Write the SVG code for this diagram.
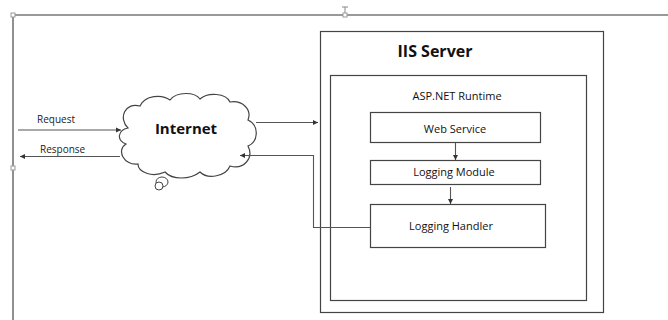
<svg xmlns="http://www.w3.org/2000/svg" width="668" height="320" viewBox="0 0 668 320">
<style>
.box{fill:#fff;stroke:#444;stroke-width:1.2}
.ln{fill:none;stroke:#555;stroke-width:1.1}
.t{font-family:"Open Sans","Liberation Sans",sans-serif;font-size:11px;fill:#111;text-anchor:middle}
.lbl{font-family:"Open Sans","Liberation Sans",sans-serif;font-size:10px;fill:#222}
.b{font-family:"Open Sans","Liberation Sans",sans-serif;font-weight:bold;fill:#111;text-anchor:middle}
.h{fill:#fff;stroke:#999;stroke-width:1}
</style>
<defs>
<marker id="ah" markerWidth="6" markerHeight="6" refX="5" refY="3" orient="auto" markerUnits="userSpaceOnUse">
<path d="M0,0.5 L5,3 L0,5.5 Z" fill="#333"/>
</marker>
</defs>
<rect width="668" height="320" fill="#fff"/>
<g id="page">
<line x1="13" y1="15" x2="668" y2="15" stroke="#999" stroke-width="2"/>
<line x1="13" y1="15" x2="13" y2="320" stroke="#222" stroke-width="1"/>
<line x1="345" y1="7" x2="345" y2="14" stroke="#888" stroke-width="1"/>
<line x1="342" y1="7" x2="348" y2="7" stroke="#888" stroke-width="1"/>
<rect class="h" x="11" y="13" width="4" height="4"/>
<rect class="h" x="343" y="13" width="4" height="4"/>
<rect class="h" x="11" y="166" width="4" height="4"/>
</g>
<g id="iis-server">
<rect class="box" x="320.5" y="31.5" width="283" height="281"/>
<text class="b" x="435" y="57" font-size="16">IIS Server</text>
</g>
<g id="aspnet-runtime">
<rect class="box" x="330.5" y="75.5" width="256" height="225"/>
<text class="t" x="457" y="100">ASP.NET Runtime</text>
</g>
<g id="web-service">
<rect class="box" x="370.5" y="112.5" width="170" height="30"/>
<text class="t" x="455" y="133" font-size="12">Web Service</text>
</g>
<g id="logging-module">
<rect class="box" x="370.5" y="160.5" width="170" height="24"/>
<text class="t" x="454" y="176">Logging Module</text>
</g>
<g id="logging-handler">
<rect class="box" x="370.5" y="204.5" width="175" height="43"/>
<text class="t" x="451" y="230">Logging Handler</text>
</g>
<g id="internet">
<path class="box" d="M128,128 C118,118 125,102 140,106 C145,95 162,94 170,100 C177,91 195,92 200,99 C208,92 226,93 230,102 C243,100 252,110 248,120 C260,126 258,142 248,146 C254,158 244,170 230,166 C226,176 208,180 200,172 C190,180 172,180 165,172 C152,178 138,172 138,164 C124,166 116,150 126,144 C116,140 118,130 128,128 Z"/>
<ellipse cx="162" cy="182" rx="6" ry="5" fill="#fff" stroke="#444" stroke-width="1"/>
<circle cx="159" cy="186" r="4" fill="#fff" stroke="#444" stroke-width="1"/>
<text class="b" x="186" y="134" font-size="15">Internet</text>
</g>
<g id="connectors">
<line class="ln" x1="18" y1="130" x2="121" y2="130" marker-end="url(#ah)"/>
<text class="lbl" x="37" y="123">Request</text>
<line class="ln" x1="120" y1="156.5" x2="20" y2="156.5" marker-end="url(#ah)"/>
<text class="lbl" x="40" y="153">Response</text>
<line class="ln" x1="256" y1="122.5" x2="318" y2="122.5" marker-end="url(#ah)"/>
<polyline class="ln" points="370,227.5 313.5,227.5 313.5,155.5 240,155.5" marker-end="url(#ah)"/>
<line class="ln" x1="455.5" y1="143" x2="455.5" y2="160" marker-end="url(#ah)"/>
<line class="ln" x1="450.5" y1="187" x2="450.5" y2="204" marker-end="url(#ah)"/>
</g>
</svg>
